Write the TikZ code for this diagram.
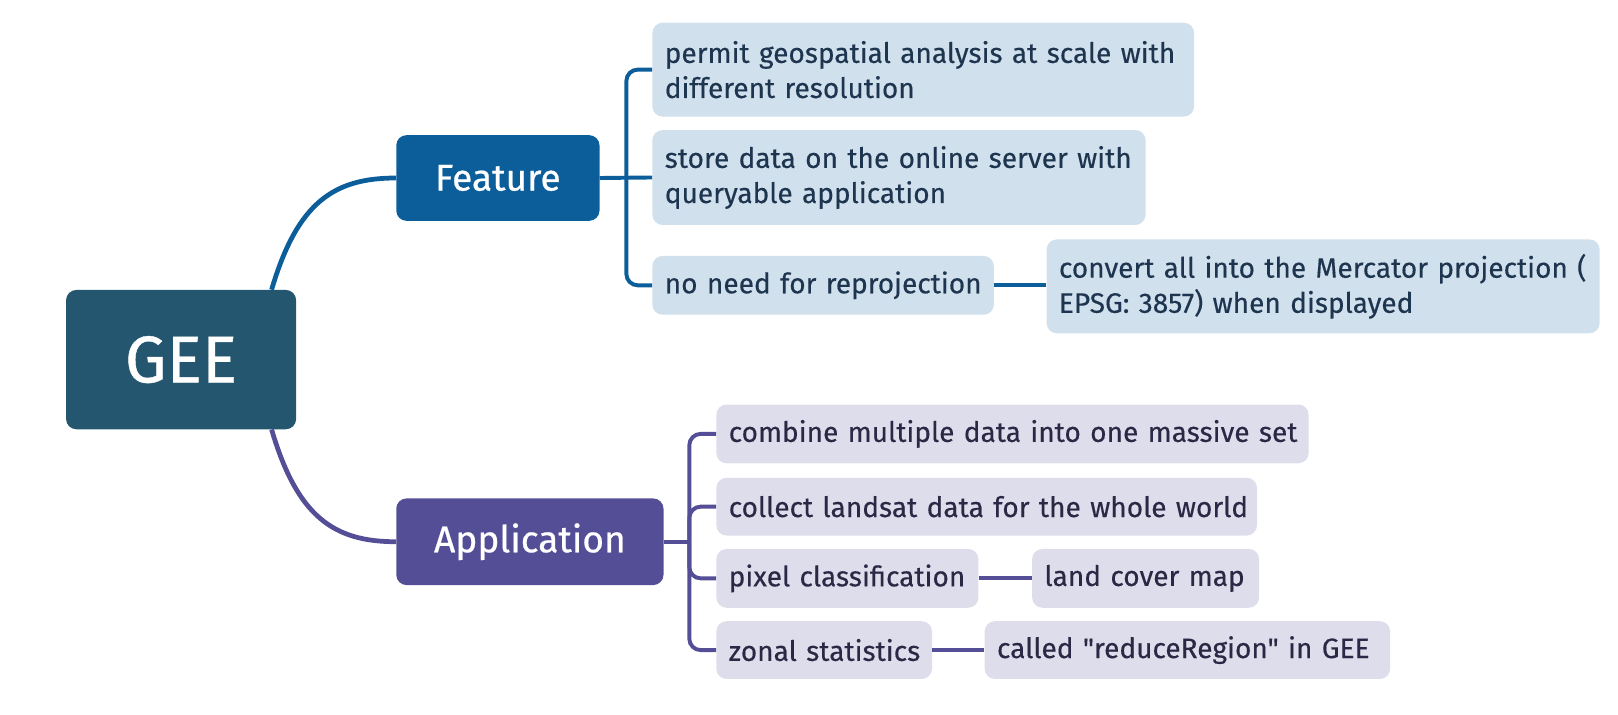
\documentclass[tikz,border=0pt]{standalone}
\usepackage{fontspec}
\setmainfont{Fira Sans}
\newfontfamily\leaffont{Fira Sans}[FakeBold=0.3]
\newfontfamily\mainfont{Fira Sans}[FakeBold=0.6]
\usetikzlibrary{calc}
\definecolor{geec}{HTML}{24566F}
\definecolor{featc}{HTML}{0C5E9A}
\definecolor{appc}{HTML}{544E96}
\definecolor{featl}{HTML}{D0E0EC}
\definecolor{appl}{HTML}{DEDDEB}
\definecolor{feattxt}{HTML}{1E3550}
\definecolor{apptxt}{HTML}{2B2846}
\tikzset{
  mainbox/.style={rounded corners=10pt, text=white, align=center, inner sep=0pt},
  fleaf/.style={fill=featl, text=feattxt, rounded corners=10pt, anchor=west, inner xsep=12pt, inner ysep=0pt, align=left, font=\leaffont\fontsize{27.2}{34}\selectfont},
  aleaf/.style={fill=appl, text=apptxt, rounded corners=10pt, anchor=west, inner xsep=12pt, inner ysep=0pt, align=left, font=\leaffont\fontsize{27.2}{34}\selectfont},
  fline/.style={draw=featc, line width=3.8pt},
  aline/.style={draw=appc, line width=3.8pt},
}
\begin{document}
\begin{tikzpicture}[x=1pt,y=-1pt]
\useasboundingbox (0,0) rectangle (1568,692);
% main nodes
\node[mainbox, fill=geec, minimum width=223pt, minimum height=135pt, font=\mainfont\fontsize{64}{68}\selectfont] (gee) at (175.5,348.5) {GEE};
\node[mainbox, fill=featc, minimum width=197pt, minimum height=83pt, font=\mainfont\fontsize{36}{40}\selectfont] (feat) at (482.5,172.5) {Feature};
\node[mainbox, fill=appc, minimum width=259pt, minimum height=84pt, font=\mainfont\fontsize{36}{40}\selectfont] (app) at (513.5,525) {Application};
% feature leaves
\node[fleaf, text width=501pt, minimum height=91pt] (f1) at (632,67.5) {\mbox{permit geospatial analysis at scale with}\\\mbox{different resolution}};
\node[fleaf, text width=454pt, minimum height=92pt] (f2) at (632,172) {\mbox{store data on the online server with}\\\mbox{queryable application}};
\node[fleaf, text width=307pt, minimum height=57pt] (f3) at (632,276.5) {\mbox{no need for reprojection}};
\node[fleaf, text width=512pt, minimum height=91pt] (f3a) at (1014,277.5) {\mbox{convert all into the Mercator projection (}\\\mbox{EPSG: 3857) when displayed}};
% application leaves
\node[aleaf, text width=550pt, minimum height=57pt] (a1) at (694,420.5) {\mbox{combine multiple data into one massive set}};
\node[aleaf, text width=500pt, minimum height=56pt] (a2) at (694,491) {\mbox{collect landsat data for the whole world}};
\node[aleaf, text width=230pt, minimum height=57pt] (a3) at (694,560.5) {\mbox{pixel classification}};
\node[aleaf, text width=196pt, minimum height=57pt] (a3a) at (1000,560.5) {\mbox{land cover map}};
\node[aleaf, text width=185pt, minimum height=56pt] (a4) at (694,630) {\mbox{zonal statistics}};
\node[aleaf, text width=369pt, minimum height=56pt] (a4a) at (954,630) {\mbox{called \symbol{34}reduceRegion\symbol{34} in GEE}};
% curves from GEE
\coordinate (gt) at ($(gee.north east)+(-24,0)$);
\coordinate (gb) at ($(gee.south east)+(-24,0)$);
\draw[draw=featc, line width=4.6pt] (gt) .. controls ($(gt)+(25,-85)$) and ($(feat.west)+(-60,0)$) .. (feat.west);
\draw[draw=appc, line width=4.6pt] (gb) .. controls ($(gb)+(25,85)$) and ($(app.west)+(-60,0)$) .. (app.west);
% feature bracket
\coordinate (fb) at (607,172);
\draw[fline, rounded corners=11pt] (f1.west) -| (fb) |- (f3.west);
\draw[fline] (feat.east) -- (f2.west);
\draw[fline] (f3.east) -- (f3 -| f3a.west);
% application bracket
\coordinate (ab) at (668,525);
\draw[aline, rounded corners=11pt] (a1.west) -| (ab) |- (a4.west);
\draw[aline, rounded corners=11pt] (a2.west) -| (ab);
\draw[aline, rounded corners=11pt] (a3.west) -| (ab);
\draw[aline] (app.east) -- (ab);
\draw[aline] (a3.east) -- (a3a.west);
\draw[aline] (a4.east) -- (a4a.west);
\end{tikzpicture}
\end{document}
